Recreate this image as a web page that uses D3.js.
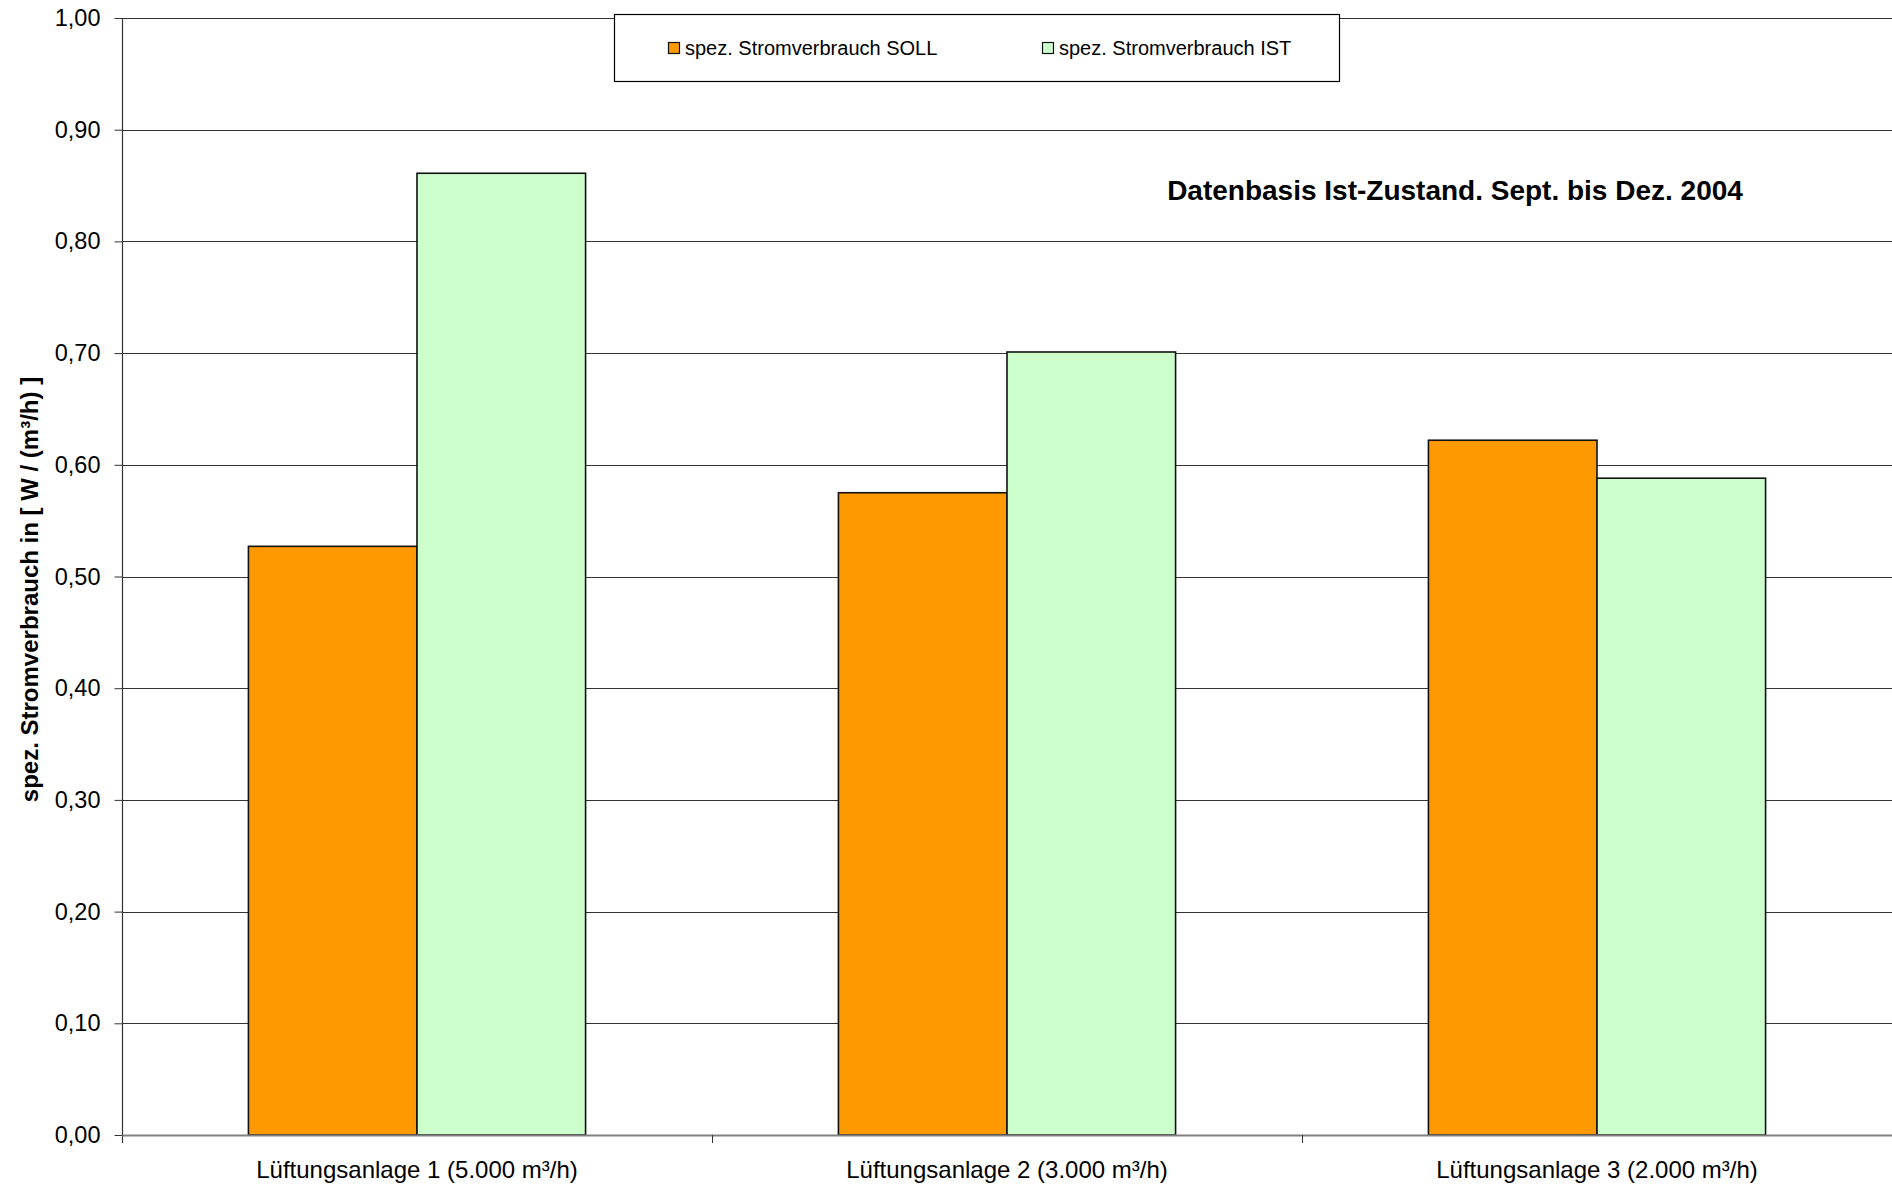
<!DOCTYPE html>
<html>
<head>
<meta charset="utf-8">
<script src="https://cdn.jsdelivr.net/npm/d3@7"></script>
<style>
  html, body { margin: 0; padding: 0; background: #fff; }
  svg { display: block; font-family: "Liberation Sans", Arial, sans-serif; }
</style>
</head>
<body>
<svg id="chart" width="1892" height="1186"></svg>
<script>
const categories = ["Lüftungsanlage 1 (5.000 m³/h)", "Lüftungsanlage 2 (3.000 m³/h)", "Lüftungsanlage 3 (2.000 m³/h)"];
const seriesNames = ["spez. Stromverbrauch SOLL", "spez. Stromverbrauch IST"];
const sollValues = [0.527, 0.575, 0.622];
const istValues = [0.861, 0.701, 0.588];
const yTicks = [0, 0.1, 0.2, 0.3, 0.4, 0.5, 0.6, 0.7, 0.8, 0.9, 1.0];
const yLabel = "spez. Stromverbrauch in [ W / (m³/h) ]";
const note = "Datenbasis Ist-Zustand. Sept. bis Dez. 2004";
const colors = ["#FF9900", "#CCFFCC"];

const svg = d3.select("#chart");
const m = { left: 122, right: 1892, top: 18, bottom: 1135 };

const x0 = d3.scaleBand().domain(categories).range([m.left, m.right]).paddingInner(0).paddingOuter(0);
const gapHalf = x0.bandwidth() * 0.75 / 3.5;
const x1 = d3.scaleBand().domain(seriesNames).range([gapHalf, x0.bandwidth() - gapHalf]).padding(0);
const y = d3.scaleLinear().domain([0, 1]).range([m.bottom, m.top]);

const fmt = v => d3.format(".2f")(v).replace(".", ",");

// gridlines
svg.append("g")
  .selectAll("line").data(yTicks.filter(t => t > 0)).join("line")
  .attr("x1", m.left).attr("x2", m.right)
  .attr("y1", d => Math.round(y(d)) + 0.5).attr("y2", d => Math.round(y(d)) + 0.5)
  .attr("stroke", "#333").attr("stroke-width", 1.2);

// y axis
const yAxis = d3.axisLeft(y).tickValues(yTicks).tickFormat(fmt).tickSize(8).tickPadding(14);
const gy = svg.append("g").attr("transform", `translate(${m.left + 0.5},0)`).call(yAxis);
gy.select(".domain").remove();
gy.selectAll(".tick line").attr("stroke", "#333");
gy.selectAll(".tick text").attr("font-size", 23.5).attr("fill", "#000")
  .attr("font-family", "Liberation Sans, Arial, sans-serif");
svg.append("line").attr("x1", m.left + 0.5).attr("x2", m.left + 0.5)
  .attr("y1", m.top).attr("y2", m.bottom + 8).attr("stroke", "#333").attr("stroke-width", 1.2);

// bars
const data = categories.map((c, i) => ({ cat: c, vals: [sollValues[i], istValues[i]] }));
const groups = svg.append("g").selectAll("g").data(data).join("g")
  .attr("transform", d => `translate(${x0(d.cat)},0)`);
groups.selectAll("rect").data(d => d.vals.map((v, j) => ({ v, s: seriesNames[j], j }))).join("rect")
  .attr("x", d => x1(d.s)).attr("width", x1.bandwidth())
  .attr("y", d => y(d.v)).attr("height", d => y(0) - y(d.v))
  .attr("fill", d => colors[d.j]).attr("stroke", "#111").attr("stroke-width", 1.6);

// x axis
const xAxis = d3.axisBottom(x0).tickSize(0).tickPadding(26);
const gx = svg.append("g").attr("transform", `translate(0,${m.bottom})`).call(xAxis);
gx.select(".domain").attr("stroke", "#808080").attr("stroke-width", 2.2);
gx.selectAll(".tick text").attr("font-size", 24).attr("fill", "#000")
  .attr("font-family", "Liberation Sans, Arial, sans-serif");
// category separators
svg.append("g").selectAll("line").data(categories.slice(1)).join("line")
  .attr("x1", d => Math.round(x0(d)) + 0.5).attr("x2", d => Math.round(x0(d)) + 0.5)
  .attr("y1", m.bottom).attr("y2", m.bottom + 8).attr("stroke", "#333").attr("stroke-width", 1);

// y label
svg.append("text")
  .attr("transform", `translate(29,${(m.top + m.bottom) / 2 + 13}) rotate(-90)`)
  .attr("text-anchor", "middle").attr("dominant-baseline", "central")
  .attr("font-size", 24).attr("font-weight", "bold").text(yLabel);

// note
svg.append("text").attr("x", 1455).attr("y", 200).attr("text-anchor", "middle")
  .attr("font-size", 28).attr("font-weight", "bold").text(note);

// legend
const lg = svg.append("g");
lg.append("rect").attr("x", 614.5).attr("y", 14.5).attr("width", 725).attr("height", 67)
  .attr("fill", "#fff").attr("stroke", "#000").attr("stroke-width", 1.2);
const legX = [668, 1042];
seriesNames.forEach((s, i) => {
  lg.append("rect").attr("x", legX[i] + 0.5).attr("y", 42.5).attr("width", 11).attr("height", 11)
    .attr("fill", colors[i]).attr("stroke", "#111").attr("stroke-width", 1.2);
  lg.append("text").attr("x", legX[i] + 17).attr("y", 55).attr("font-size", 20).text(s);
});
</script>
</body>
</html>
